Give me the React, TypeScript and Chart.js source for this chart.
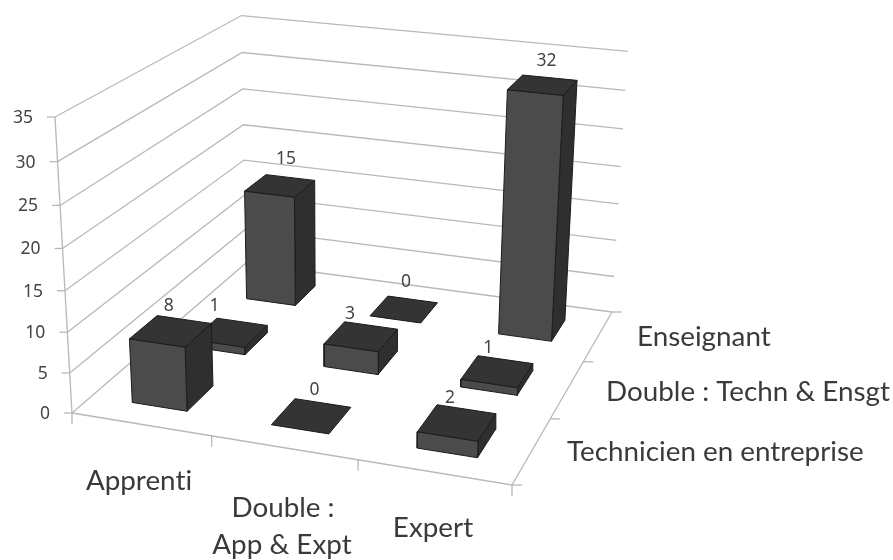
import React, { useEffect, useRef } from "react";
import { Chart, registerables } from "chart.js";

Chart.register(...registerables);

// ---- data ----
const categories = ["Apprenti", "Double : App & Expt", "Expert"];
const seriesNames = ["Technicien en entreprise", "Double : Techn & Ensgt", "Enseignant"];
const techValues = [8, 0, 2];
const doubleValues = [1, 3, 1];
const teacherValues = [15, 0, 32];
const seriesValues = [techValues, doubleValues, teacherValues];
const valueTicks = [0, 5, 10, 15, 20, 25, 30, 35];
const axisMax = 35;

// ---- camera: corners of the floor on screen and the vertical vanishing point ----
const FL = [72, 413], FR = [512, 485], BR = [612, 312], BL = [246, 263];
const VP = [332, 4937];
const topOfAxisY = 117;

const dx1 = FR[0] - BR[0], dx2 = BL[0] - BR[0], sx = FL[0] - FR[0] + BR[0] - BL[0];
const dy1 = FR[1] - BR[1], dy2 = BL[1] - BR[1], sy = FL[1] - FR[1] + BR[1] - BL[1];
const det = dx1 * dy2 - dx2 * dy1;
const g = (sx * dy2 - dx2 * sy) / det;
const h = (dx1 * sy - sx * dy1) / det;
const a = FR[0] - FL[0] + g * FR[0], b = BL[0] - FL[0] + h * BL[0], c = FL[0];
const d = FR[1] - FL[1] + g * FR[1], e = BL[1] - FL[1] + h * BL[1], f = FL[1];
const k = ((FL[1] - topOfAxisY) / (topOfAxisY - VP[1])) / axisMax;

function project(u: number, v: number, z: number) {
  const w = g * u + h * v + 1 + z * k;
  return {
    x: (a * u + b * v + c + z * k * VP[0]) / w,
    y: (d * u + e * v + f + z * k * VP[1]) / w,
  };
}

// ---- bar footprint in floor units ----
const halfU = 0.2 / 3;
const halfV = 0.215 / 3;
const GRID = "#b8b8b8";
const FRONT = "#4b4b4b", SIDE = "#2f2f2f", TOP = "#343434", EDGE = "#1b1b1b";

type Pt = { x: number; y: number };

function lineSet(data: Pt[], color = GRID, width = 1.3) {
  return { type: "line", data, borderColor: color, borderWidth: width, pointRadius: 0, fill: false, tension: 0, clip: false };
}
function faceSet(data: Pt[], color: string) {
  return {
    type: "line",
    data: [...data, data[0]],
    borderColor: EDGE,
    borderWidth: 1,
    backgroundColor: color,
    pointRadius: 0,
    fill: "shape",
    tension: 0,
    clip: false,
    borderJoinStyle: "round",
  };
}

function buildDatasets() {
  const sets: any[] = [];
  valueTicks.forEach((t) => {
    sets.push(lineSet([project(0, 0, t), project(0, 1, t), project(1, 1, t)]));
    const p = project(0, 0, t);
    sets.push(lineSet([{ x: p.x - 8, y: p.y }, p]));
  });
  sets.push(lineSet([project(0, 0, 0), project(0, 0, axisMax)]));
  sets.push(lineSet([project(0, 0, 0), project(1, 0, 0), project(1, 1, 0)]));
  // tick marks on the two floor axes
  [0, 1, 2, 3].forEach((i) => {
    const p = project(i / 3, 0, 0);
    sets.push(lineSet([p, { x: p.x, y: p.y + 11 }]));
    const q = project(1, i / 3, 0);
    sets.push(lineSet([q, { x: q.x + 10, y: q.y }]));
  });
  // bars, painted back to front
  for (let s = seriesValues.length - 1; s >= 0; s--) {
    categories.forEach((_, ci) => {
      const val = seriesValues[s][ci];
      const u0 = (ci + 0.5) / 3 - halfU, u1 = (ci + 0.5) / 3 + halfU;
      const v0 = (s + 0.5) / 3 - halfV, v1 = (s + 0.5) / 3 + halfV;
      if (val > 0) {
        sets.push(faceSet([project(u1, v0, 0), project(u1, v1, 0), project(u1, v1, val), project(u1, v0, val)], SIDE));
        sets.push(faceSet([project(u0, v0, 0), project(u1, v0, 0), project(u1, v0, val), project(u0, v0, val)], FRONT));
      }
      sets.push(faceSet([project(u0, v0, val), project(u1, v0, val), project(u1, v1, val), project(u0, v1, val)], TOP));
    });
  }
  return sets.map((ds, i) => ({ ...ds, order: sets.length - i }));
}

// screen nudges of the value labels, [series][category]
const labelNudge = [
  [[-2, -25], [3, -26], [-7, -25]],
  [[-16, -26], [-11, -22], [-9, -23]],
  [[6, -27], [2, -27], [4, -24]],
];

const textPlugin = {
  id: "chartText",
  afterDatasetsDraw(chart: any) {
    const { ctx, scales } = chart;
    const X = (v: number) => scales.x.getPixelForValue(v);
    const Y = (v: number) => scales.y.getPixelForValue(v);
    ctx.save();
    ctx.textBaseline = "middle";
    ctx.font = '17.5px "Noto Sans"';
    ctx.fillStyle = "#444444";
    ctx.textAlign = "right";
    valueTicks.forEach((t) => {
      const p = project(0, 0, t);
      ctx.fillText(String(t), X(p.x - 22), Y(p.y + 1));
    });
    ctx.textAlign = "center";
    seriesValues.forEach((vals, s) =>
      vals.forEach((val, ci) => {
        const p = project((ci + 0.5) / 3, (s + 0.5) / 3, val);
        const [nx, ny] = labelNudge[s][ci];
        ctx.fillText(String(val), X(p.x + nx), Y(p.y + ny));
      })
    );

    ctx.font = '27.8px "Lato"';
    ctx.letterSpacing = "0.01px";
    ctx.fillStyle = "#3a3a3a";
    ctx.fillText(categories[0], X(139), Y(481));
    ctx.fillText("Double :", X(283), Y(508));
    ctx.fillText("App & Expt", X(282), Y(545));
    ctx.fillText(categories[2], X(433), Y(528));
    ctx.textAlign = "left";
    ctx.fillText(seriesNames[2], X(637), Y(337));
    ctx.fillText(seriesNames[1], X(606), Y(392));
    ctx.fillText(seriesNames[0], X(567), Y(452));
    ctx.restore();
  },
};

export default function App() {
  const ref = useRef<HTMLCanvasElement>(null);
  useEffect(() => {
    const chart = new Chart(ref.current as HTMLCanvasElement, {
      type: "line",
      data: { datasets: buildDatasets() },
      options: {
        animation: false,
        responsive: false,
        parsing: true,
        layout: { padding: 0 },
        plugins: { legend: { display: false }, tooltip: { enabled: false }, title: { display: false } },
        scales: {
          x: { type: "linear", min: 0, max: 893, display: false },
          y: { type: "linear", min: 0, max: 560, reverse: true, display: false },
        },
      },
      plugins: [textPlugin],
    } as any);
    return () => chart.destroy();
  }, []);
  return (
    <canvas
      ref={ref}
      width={893}
      height={560}
      style={{ position: "absolute", left: 0, top: 0, background: "#fff", filter: "blur(0.5px)" }}
    />
  );
}
